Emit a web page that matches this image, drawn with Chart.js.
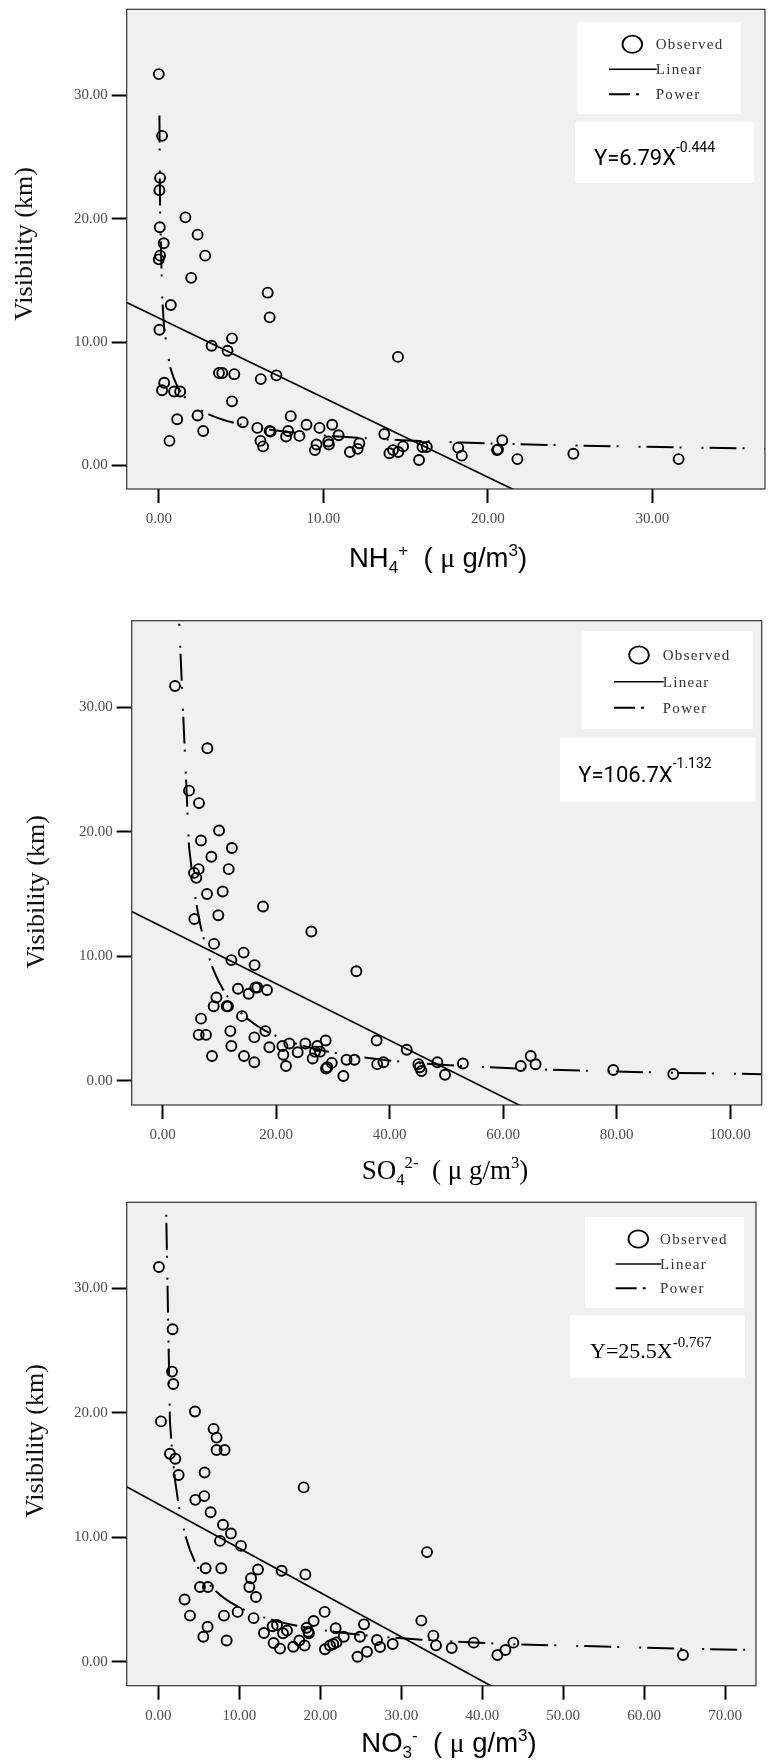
<!DOCTYPE html>
<html>
<head>
<meta charset="utf-8">
<script src="https://cdn.jsdelivr.net/npm/chart.js@4.4.1/dist/chart.umd.min.js"></script>
<style>
html,body{margin:0;padding:0;background:#fff;}
body{width:773px;height:1764px;position:relative;overflow:hidden;}
canvas{position:absolute;left:0;display:block;}
</style>
</head>
<body>
<canvas id="c1" width="773" height="590" style="top:0px"></canvas>
<canvas id="c2" width="773" height="600" style="top:590px"></canvas>
<canvas id="c3" width="773" height="574" style="top:1190px"></canvas>
<script>
// ---------------- DATA ----------------
// Panel 1: NH4+ vs visibility
const nh4X = [0,0.2,0.08,0.04,0.06,1.62,2.36,0.3,0.08,0,2.82,1.97,0.73,6.62,6.74,0.04,3.21,4.45,4.18,14.54,3.66,3.86,4.59,6.2,7.15,0.33,0.2,0.93,1.3,4.45,1.12,2.36,0.65,2.7,5.1,5.99,6.18,6.34,6.74,6.8,7.74,7.86,8.02,8.55,8.98,9.49,9.59,9.77,10.3,10.34,10.54,10.93,11.62,12.09,12.19,13.71,14.02,14.24,14.56,14.85,15.82,16.03,16.29,18.2,18.42,20.56,20.62,20.88,21.8,25.2,31.6];
const nh4Y = [31.7,26.7,23.3,22.3,19.3,20.1,18.7,18.0,17.0,16.7,17.0,15.2,13.0,14.0,12.0,11.0,9.7,10.3,9.3,8.8,7.5,7.5,7.4,7.0,7.3,6.7,6.1,6.0,6.0,5.2,3.75,4.05,2.0,2.8,3.5,3.05,2.0,1.55,2.8,2.75,2.35,2.8,4.0,2.4,3.3,1.25,1.7,3.05,1.95,1.7,3.3,2.45,1.1,1.35,1.8,2.55,1.0,1.25,1.1,1.55,0.45,1.5,1.5,1.45,0.8,1.25,1.3,2.05,0.52,0.95,0.52];
const nh4XTicks = [0,10,20,30];
const nh4Linear = [11.94,-0.644];      // intercept, slope
const nh4Power = [6.79,-0.444];        // a, b  (Y = a X^b)

// Panel 2: SO4 2- vs visibility
const so4X = [2.17,7.87,4.64,6.4,9.93,6.75,12.2,8.58,11.63,6.34,5.52,5.93,7.81,10.57,17.68,5.58,9.8,26.2,9.05,14.27,12.1,16.2,34.13,13.27,16.33,16.68,15.15,18.38,9.46,8.99,11.28,11.5,13.98,6.75,6.34,7.64,11.92,18.09,16.15,12.1,18.8,8.69,14.33,16.15,21.09,21.26,21.73,22.32,23.79,25.14,26.43,26.84,27.25,27.72,28.72,28.78,29.0,29.8,31.84,32.4,33.8,37.7,37.8,38.9,43.0,45.05,45.3,45.6,48.4,49.75,52.9,63.1,64.85,65.7,79.4,89.97];
const so4Y = [31.7,26.7,23.3,22.3,20.1,19.3,18.7,18.0,17.0,17.0,16.7,16.3,15.0,15.2,14.0,13.0,13.3,12.0,11.0,10.3,9.7,9.3,8.8,7.4,7.5,7.5,7.0,7.3,6.7,6.0,6.0,6.0,5.2,5.0,3.7,3.7,4.0,4.0,3.5,2.8,2.7,2.0,2.0,1.5,2.8,2.1,1.2,3.0,2.3,3.0,1.8,2.35,2.8,2.35,3.25,1.0,1.1,1.45,0.4,1.7,1.7,3.25,1.35,1.5,2.5,1.35,1.1,0.8,1.5,0.5,1.4,1.2,2.0,1.34,0.88,0.56];
const so4XTicks = [0,20,40,60,80,100];
const so4Linear = [12.35,-0.2274];
const so4Power = [106.7,-1.132];

// Panel 3: NO3- vs visibility
const no3X = [0.08,1.77,1.69,1.85,0.33,4.53,6.83,7.2,7.2,8.19,1.44,2.1,2.51,5.72,17.95,4.57,5.68,6.46,7.99,8.97,7.62,10.21,33.18,5.85,7.78,12.31,15.23,18.16,11.45,5.15,6.13,11.24,12.06,3.25,3.91,8.11,9.8,20.54,11.77,6.09,5.56,8.44,13.05,14.24,14.12,14.66,15.03,15.4,15.89,16.67,17.41,18.07,18.32,18.53,18.6,19.18,20.58,21.2,21.6,21.9,22.0,22.9,24.9,24.6,25.4,25.77,27.0,27.38,28.94,32.48,33.96,34.29,36.23,38.95,41.87,42.86,43.84,64.78];
const no3Y = [31.7,26.7,23.3,22.3,19.3,20.1,18.7,18.0,17.0,17.0,16.7,16.3,15.0,15.2,14.0,13.0,13.3,12.0,11.0,10.3,9.7,9.3,8.8,7.5,7.5,7.4,7.3,7.0,6.7,6.0,6.0,6.0,5.2,5.0,3.7,3.7,4.0,4.0,3.5,2.8,2.0,1.7,2.3,1.5,2.85,2.95,1.05,2.28,2.5,1.2,1.7,1.3,2.73,2.4,2.28,3.27,1.0,1.3,1.42,2.68,1.55,2.0,2.0,0.4,3.0,0.8,1.74,1.18,1.42,3.3,2.09,1.31,1.1,1.53,0.54,0.94,1.53,0.54];
const no3XTicks = [0,10,20,30,40,50,60,70];
const no3Linear = [12.67,-0.3557];
const no3Power = [25.5,-0.767];

const yTicks = [0,10,20,30];
const legendLabels = ['Observed','Linear','Power'];

// ---------------- PANEL LAYOUT (styling only) ----------------
const panels = [
  { id:'c1', H:590, area:{l:126.7,r:765,t:9.3,b:489},
    xs:nh4X, ys:nh4Y, xTicks:nh4XTicks, lin:nh4Linear, pow:nh4Power,
    xr:[-1.95,36.85], yr:[-1.9,36.95],
    yTitle:{x:25,y:244},
    xTitle:{x:438,y:556.7,size:27.5,family:"'Liberation Sans', Arial, sans-serif",
      segs:[{t:'NH'},{t:'4',sub:1},{t:'+',sup:1},{t:'  ( '},{t:'\u03BC',mu:1},{t:' g/m'},{t:'3',sup:1},{t:')'}]},
    legend:{x:576.7,y:22.3,w:164.3,h:91.7,cx:55.6,tx:79,ly:[22,47,72],l0:32.3},
    eq:{x:575,y:122,w:179,h:60.7,tx:19,base:43,supBase:29.5,main:'Y=6.79X',sup:'-0.444',
        font:"Roboto, 'Open Sans', sans-serif",size:22,supSize:14}
  },
  { id:'c2', H:600, area:{l:131.7,r:761.7,t:30.7,b:515},
    xs:so4X, ys:so4Y, xTicks:so4XTicks, lin:so4Linear, pow:so4Power,
    xr:[-5.46,105.55], yr:[-1.93,36.94],
    yTitle:{x:37,y:302},
    xTitle:{x:445,y:579.3,size:27,family:"'Liberation Serif', 'Times New Roman', serif",
      segs:[{t:'SO'},{t:'4',sub:1},{t:'2-',sup:1},{t:'  ( '},{t:'\u03BC',mu:1},{t:' g/m'},{t:'3',sup:1},{t:')'}]},
    legend:{x:581.7,y:41,w:171,h:98.3,cx:57.3,tx:81,ly:[24,50.7,76.7],l0:32.3},
    eq:{x:560,y:147.7,w:195.7,h:64,tx:18.3,base:44,supBase:30.6,main:'Y=106.7X',sup:'-1.132',
        font:"Roboto, 'Open Sans', sans-serif",size:22,supSize:14}
  },
  { id:'c3', H:574, area:{l:126.7,r:756,t:12.3,b:495.7},
    xs:no3X, ys:no3Y, xTicks:no3XTicks, lin:no3Linear, pow:no3Power,
    xr:[-3.9,73.8], yr:[-1.93,36.9],
    yTitle:{x:36,y:251},
    xTitle:{x:449,y:551.7,size:27.5,family:"'Liberation Sans', Arial, sans-serif",
      segs:[{t:'NO'},{t:'3',sub:1},{t:'-',sup:1},{t:'  ( '},{t:'\u03BC',mu:1},{t:' g/m'},{t:'3',sup:1},{t:')'}]},
    legend:{x:585,y:26.7,w:159,h:91,cx:53.3,tx:75,ly:[22.3,47.3,71.6],l0:30.7},
    eq:{x:570,y:125,w:175,h:62.7,tx:20,base:43.3,supBase:31.7,main:'Y=25.5X',sup:'-0.767',
        font:"'Liberation Serif', 'Times New Roman', serif",size:22,supSize:15}
  }
];

const tickFont = {family:"'Liberation Serif', 'Times New Roman', serif", size:15};
const powerDash = [27,6,2,20,2,6];

function drawRich(ctx, segs, cx, cy, size, family, color){
  ctx.save();
  ctx.fillStyle = color;
  ctx.textBaseline = 'alphabetic';
  ctx.textAlign = 'left';
  let total = 0;
  const items = segs.map(s=>{
    const fs = (s.sub||s.sup) ? size*0.62 : size;
    const fam = s.mu ? "'Liberation Serif', serif" : family;
    ctx.font = fs.toFixed(1)+'px '+fam;
    const w = ctx.measureText(s.t).width;
    total += w;
    return Object.assign({}, s, {fs, fam, w});
  });
  let x = cx - total/2;
  const base = cy + size*0.36;
  items.forEach(it=>{
    ctx.font = it.fs.toFixed(1)+'px '+it.fam;
    const dy = it.sub ? size*0.22 : (it.sup ? -size*0.4 : 0);
    ctx.fillText(it.t, x, base+dy);
    x += it.w;
  });
  ctx.restore();
}

const decorPlugin = {
  id:'decor',
  beforeDraw(chart){
    const a = chart.chartArea, ctx = chart.ctx;
    ctx.save();
    ctx.fillStyle = '#f0f0f0';
    ctx.fillRect(a.left, a.top, a.right-a.left, a.bottom-a.top);
    ctx.restore();
  },
  afterDraw(chart){
    const p = chart.options.plugins.decor.panel;
    const a = chart.chartArea, ctx = chart.ctx;
    ctx.save();
    // frame
    ctx.strokeStyle = '#333';
    ctx.lineWidth = 1.2;
    ctx.strokeRect(a.left, a.top, a.right-a.left, a.bottom-a.top);

    // legend box
    const L = p.legend;
    ctx.fillStyle = '#fff';
    ctx.fillRect(L.x, L.y, L.w, L.h);
    ctx.strokeStyle = '#000';
    ctx.lineWidth = 1.8;
    ctx.beginPath();
    ctx.ellipse(L.x+L.cx, L.y+L.ly[0], 9.8, 8.6, 0, 0, Math.PI*2);
    ctx.stroke();
    ctx.lineWidth = 1.6;
    ctx.beginPath();
    ctx.moveTo(L.x+L.l0, L.y+L.ly[1]); ctx.lineTo(L.x+L.tx+1, L.y+L.ly[1]);
    ctx.stroke();
    ctx.lineWidth = 2;
    ctx.beginPath();
    ctx.moveTo(L.x+L.l0, L.y+L.ly[2]); ctx.lineTo(L.x+L.l0+21, L.y+L.ly[2]);
    ctx.moveTo(L.x+L.l0+27, L.y+L.ly[2]); ctx.lineTo(L.x+L.l0+30, L.y+L.ly[2]);
    ctx.stroke();
    ctx.fillStyle = '#333';
    ctx.font = "15px 'Liberation Serif', 'Times New Roman', serif";
    ctx.textBaseline = 'middle';
    ctx.textAlign = 'left';
    if ('letterSpacing' in ctx) ctx.letterSpacing = '1.3px';
    legendLabels.forEach((t,i)=>{ ctx.fillText(t, L.x+L.tx, L.y+L.ly[i]+1); });
    if ('letterSpacing' in ctx) ctx.letterSpacing = '0px';

    // equation box
    const E = p.eq;
    ctx.fillStyle = '#fff';
    ctx.fillRect(E.x, E.y, E.w, E.h);
    ctx.fillStyle = '#000';
    ctx.textBaseline = 'alphabetic';
    ctx.font = E.size+'px '+E.font;
    ctx.fillText(E.main, E.x+E.tx, E.y+E.base);
    const mw = ctx.measureText(E.main).width;
    ctx.font = E.supSize+'px '+E.font;
    ctx.fillText(E.sup, E.x+E.tx+mw, E.y+E.supBase);

    // y title
    ctx.save();
    ctx.translate(p.yTitle.x, p.yTitle.y);
    ctx.rotate(-Math.PI/2);
    ctx.fillStyle = '#111';
    ctx.font = "26px 'Liberation Serif', 'Times New Roman', serif";
    ctx.textAlign = 'center';
    ctx.textBaseline = 'middle';
    ctx.fillText('Visibility (km)', 0, 0);
    ctx.restore();

    // x title
    const X = p.xTitle;
    drawRich(ctx, X.segs, X.x, X.y, X.size, X.family, '#000');
    ctx.restore();
  }
};

function buildChart(p){
  const pts = p.xs.map((x,i)=>({x:x, y:p.ys[i]}));
  const linPts = p.xr.map(x=>({x:x, y:p.lin[0]+p.lin[1]*x}));
  const curveX = Array.from(new Set(p.xs.filter(v=>v>0))).sort((a,b)=>a-b);
  curveX.push(p.xr[1]);
  const powPts = curveX.map(x=>({x:x, y:p.pow[0]*Math.pow(x,p.pow[1])}));
  const W = 773;
  return new Chart(document.getElementById(p.id), {
    type:'scatter',
    data:{datasets:[
      {label:'Linear', data:linPts, showLine:true, pointRadius:0, borderColor:'#000', borderWidth:1.7, clip:0, order:2},
      {label:'Power', data:powPts, showLine:true, pointRadius:0, borderColor:'#000', borderWidth:2, borderDash:powerDash, clip:0, order:3},
      {label:'Observed', data:pts, showLine:false, pointStyle:'circle', pointRadius:5, pointHoverRadius:5,
       borderColor:'#000', backgroundColor:'rgba(0,0,0,0)', pointBorderWidth:1.9, borderWidth:1.9, order:1}
    ]},
    options:{
      responsive:false, animation:false, events:[],
      layout:{padding:{left:0, top:p.area.t, right:W-p.area.r, bottom:0}},
      plugins:{legend:{display:false}, tooltip:{enabled:false}, decor:{panel:p}},
      scales:{
        x:{type:'linear', min:p.xr[0], max:p.xr[1],
           afterBuildTicks(s){ s.ticks = p.xTicks.map(v=>({value:v})); },
           afterFit(s){ s.height = p.H - p.area.b; s.paddingLeft = 0; s.paddingRight = 0; },
           grid:{drawOnChartArea:false, drawTicks:true, tickLength:14, tickWidth:2, tickColor:'#000'},
           border:{display:false},
           ticks:{font:tickFont, color:'#4d4d4d', padding:7, maxRotation:0, autoSkip:false,
                  callback:v=>Number(v).toFixed(2)}},
        y:{type:'linear', min:p.yr[0], max:p.yr[1],
           afterBuildTicks(s){ s.ticks = yTicks.map(v=>({value:v})); },
           afterFit(s){ s.width = p.area.l; s.paddingTop = 0; s.paddingBottom = 0; },
           grid:{drawOnChartArea:false, drawTicks:true, tickLength:15, tickWidth:2, tickColor:'#000'},
           border:{display:false},
           ticks:{font:tickFont, color:'#4d4d4d', padding:4, autoSkip:false,
                  callback:v=>Number(v).toFixed(2)}}
      }
    },
    plugins:[decorPlugin]
  });
}
panels.forEach(buildChart);
</script>
</body>
</html>
